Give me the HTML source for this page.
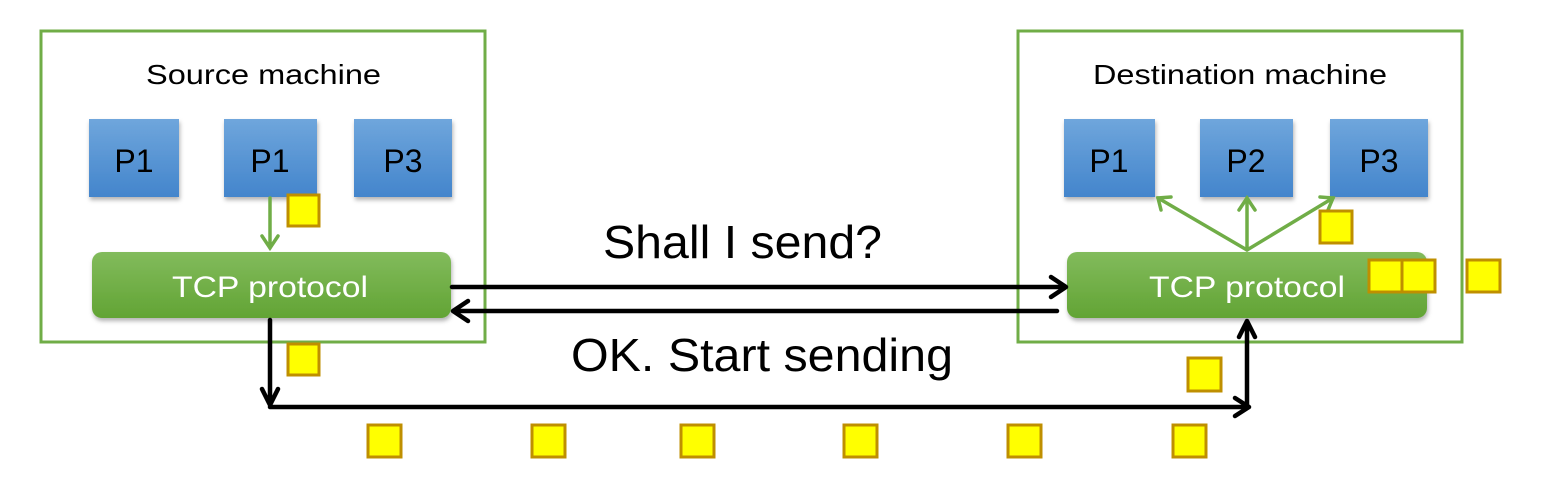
<!DOCTYPE html>
<html><head><meta charset="utf-8"><style>
html,body{margin:0;padding:0;background:#fff;width:1542px;height:478px;overflow:hidden}
</style></head><body>
<svg width="1542" height="478" viewBox="0 0 1542 478" xmlns="http://www.w3.org/2000/svg">
<defs>
<linearGradient id="bl" x1="0" y1="0" x2="0" y2="1"><stop offset="0" stop-color="#6fa6dc"/><stop offset="1" stop-color="#4385cc"/></linearGradient>
<linearGradient id="gr" x1="0" y1="0" x2="0" y2="1"><stop offset="0" stop-color="#82bb5c"/><stop offset="1" stop-color="#62a434"/></linearGradient>
<filter id="sh" x="-10%" y="-10%" width="130%" height="140%"><feDropShadow dx="1" dy="3" stdDeviation="2" flood-color="#000" flood-opacity="0.3"/></filter>
</defs>
<rect x="41" y="31" width="444" height="311" fill="none" stroke="#70ad47" stroke-width="3"/>
<rect x="1018" y="31" width="444" height="311" fill="none" stroke="#70ad47" stroke-width="3"/>
<g font-family="Liberation Sans, sans-serif" font-size="28" fill="#000">
<text x="146" y="84" textLength="235" lengthAdjust="spacingAndGlyphs">Source machine</text>
<text x="1093" y="84" textLength="294" lengthAdjust="spacingAndGlyphs">Destination machine</text>
</g>
<g filter="url(#sh)">
<rect x="89" y="119" width="90" height="78" fill="url(#bl)"/>
<rect x="224" y="119" width="93" height="78" fill="url(#bl)"/>
<rect x="354" y="119" width="98" height="78" fill="url(#bl)"/>
<rect x="1064" y="119" width="91" height="78" fill="url(#bl)"/>
<rect x="1200" y="119" width="93" height="78" fill="url(#bl)"/>
<rect x="1330" y="119" width="98" height="78" fill="url(#bl)"/>
<rect x="92" y="252" width="359" height="66" rx="10" fill="url(#gr)"/>
<rect x="1067" y="252" width="360" height="66" rx="10" fill="url(#gr)"/>
</g>
<g font-family="Liberation Sans, sans-serif" font-size="32" fill="#000" text-anchor="middle">
<text x="134" y="172">P1</text><text x="270" y="172">P1</text><text x="403" y="172">P3</text>
<text x="1109" y="172">P1</text><text x="1246" y="172">P2</text><text x="1379" y="172">P3</text>
</g>
<g font-family="Liberation Sans, sans-serif" font-size="30" fill="#fff">
<text x="172" y="297" textLength="196" lengthAdjust="spacingAndGlyphs">TCP protocol</text>
<text x="1149" y="297" textLength="196" lengthAdjust="spacingAndGlyphs">TCP protocol</text>
</g>
<g stroke="#70ad47" stroke-width="3.5" fill="none" stroke-linecap="round">
<path d="M270 198V248M262 236L270 248L278 236"/>
<path d="M1247 250L1158 198M1247 250V198M1247 250L1333 198"/>
<path d="M1161 210L1158 198L1171 197M1239 210L1247 198L1255 210M1320 197L1333 198L1328 210"/>
</g>
<g stroke="#000" stroke-width="4.5" fill="none" stroke-linecap="round" stroke-linejoin="round">
<path d="M452 287H1064M1051 277L1066 287L1051 297"/>
<path d="M1057 311H455M468 301L453 311L468 321"/>
<path d="M270 320V404M262 389L270 405L278 389"/>
<path d="M270 407H1248M1235 398L1249 407L1235 416"/>
<path d="M1247 407V322M1239 337L1247 321L1255 337"/>
</g>
<g font-family="Liberation Sans, sans-serif" font-size="46" fill="#000">
<text x="603" y="258" textLength="279" lengthAdjust="spacingAndGlyphs">Shall I send?</text>
<text x="571" y="371" textLength="382" lengthAdjust="spacingAndGlyphs">OK. Start sending</text>
</g>
<g fill="#ffff00" stroke="#bf8f00" stroke-width="3">
<rect x="288" y="195" width="31" height="31"/>
<rect x="288" y="344" width="31" height="31"/>
<rect x="1320" y="211" width="32" height="32"/>
<rect x="1369" y="260" width="33" height="32"/>
<rect x="1402" y="260" width="33" height="32"/>
<rect x="1467" y="260" width="33" height="32"/>
<rect x="1188" y="358" width="33" height="33"/>
<rect x="368" y="425" width="33" height="32"/>
<rect x="532" y="425" width="33" height="32"/>
<rect x="681" y="425" width="33" height="32"/>
<rect x="844" y="425" width="33" height="32"/>
<rect x="1008" y="425" width="33" height="32"/>
<rect x="1173" y="425" width="33" height="32"/>
</g>
</svg>
</body></html>
